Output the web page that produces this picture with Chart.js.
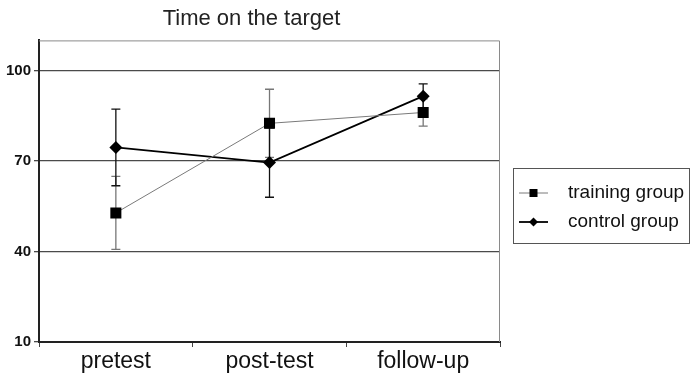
<!DOCTYPE html>
<html>
<head>
<meta charset="utf-8">
<script src="https://cdn.jsdelivr.net/npm/chart.js@4.4.1/dist/chart.umd.min.js"></script>
<style>
  html, body { margin: 0; padding: 0; background: #fff; }
  #wrap { width: 691px; height: 376px; }
</style>
</head>
<body>
<div id="wrap"><canvas id="timeChart" width="691" height="376"></canvas></div>
<script>
const categories = ["pretest", "post-test", "follow-up"];
const trainingMean = [52.8, 82.5, 86.1];
const trainingErr = [12.1, 11.3, 4.5];
const controlMean = [74.5, 69.5, 91.5];
const controlErr = [12.7, 11.5, 4.1];
const yTicks = [10, 40, 70, 100];

// error bars drawn under the markers
const errorBars = {
    id: "errorBars",
    beforeDatasetsDraw(chart) {
        const ctx = chart.ctx;
        const yScale = chart.scales.y;
        chart.data.datasets.forEach(function (ds, i) {
            const meta = chart.getDatasetMeta(i);
            ctx.save();
            ctx.strokeStyle = ds.errColor;
            ctx.lineWidth = 1.3;
            meta.data.forEach(function (pt, j) {
                const top = yScale.getPixelForValue(ds.data[j] + ds.err[j]);
                const bot = yScale.getPixelForValue(ds.data[j] - ds.err[j]);
                ctx.beginPath();
                ctx.moveTo(pt.x, top);
                ctx.lineTo(pt.x, bot);
                ctx.moveTo(pt.x - 4.5, top);
                ctx.lineTo(pt.x + 4.5, top);
                ctx.moveTo(pt.x - 4.5, bot);
                ctx.lineTo(pt.x + 4.5, bot);
                ctx.stroke();
            });
            ctx.restore();
        });
    },
};

// light frame on top and right of the plot area
const frame = {
    id: "frame",
    beforeDatasetsDraw(chart) {
        const a = chart.chartArea;
        const ctx = chart.ctx;
        ctx.save();
        ctx.strokeStyle = "#8a8a8a";
        ctx.lineWidth = 1;
        ctx.beginPath();
        ctx.moveTo(a.left, a.top + 0.5);
        ctx.lineTo(a.right - 0.5, a.top + 0.5);
        ctx.lineTo(a.right - 0.5, a.bottom);
        ctx.stroke();
        ctx.restore();
    },
};

// boxed legend to the right, line + marker samples
const boxLegend = {
    id: "boxLegend",
    afterDraw(chart) {
        const ctx = chart.ctx;
        const bx = 513, by = 168, bw = 176, bh = 75;
        ctx.save();
        ctx.strokeStyle = "#555";
        ctx.lineWidth = 1;
        ctx.strokeRect(bx + 0.5, by + 0.5, bw, bh);
        ctx.font = "19px 'Liberation Sans', Arial, sans-serif";
        ctx.textBaseline = "middle";
        chart.data.datasets.forEach(function (ds, i) {
            const y = by + 25 + i * 29;
            ctx.strokeStyle = ds.borderColor;
            ctx.lineWidth = ds.borderWidth;
            ctx.beginPath();
            ctx.moveTo(519, y);
            ctx.lineTo(548, y);
            ctx.stroke();
            ctx.fillStyle = "#000";
            ctx.beginPath();
            if (ds.pointStyle === "rect") {
                ctx.rect(529.5, y - 4, 8, 8);
            } else {
                ctx.moveTo(533.5, y - 4.5);
                ctx.lineTo(538, y);
                ctx.lineTo(533.5, y + 4.5);
                ctx.lineTo(529, y);
                ctx.closePath();
            }
            ctx.fill();
            ctx.fillStyle = "#111";
            ctx.fillText(ds.label, 568, y);
        });
        ctx.restore();
    },
};

new Chart(document.getElementById("timeChart").getContext("2d"), {
    type: "line",
    data: {
        labels: categories,
        datasets: [
            {
                label: "training group",
                data: trainingMean,
                err: trainingErr,
                errColor: "#777",
                borderColor: "#7a7a7a",
                borderWidth: 1,
                pointStyle: "rect",
                pointRadius: 7.8,
                pointBackgroundColor: "#000",
                pointBorderColor: "#000",
                pointBorderWidth: 0,
                tension: 0,
            },
            {
                label: "control group",
                data: controlMean,
                err: controlErr,
                errColor: "#111",
                borderColor: "#000",
                borderWidth: 1.8,
                pointStyle: "rectRot",
                pointRadius: 6.5,
                pointBackgroundColor: "#000",
                pointBorderColor: "#000",
                pointBorderWidth: 0,
                tension: 0,
            },
        ],
    },
    options: {
        responsive: false,
        animation: false,
        layout: { padding: { left: 3, right: 191, top: 0, bottom: 0 } },
        plugins: {
            legend: { display: false },
            tooltip: { enabled: false },
            title: {
                display: true,
                text: "Time on the target",
                color: "#222",
                font: { family: "'Liberation Sans', Arial, sans-serif", size: 22, weight: "normal" },
                padding: { top: 6, bottom: 8 },
            },
        },
        scales: {
            x: {
                offset: true,
                grid: {
                    offset: true,
                    drawOnChartArea: false,
                    tickLength: 5,
                    color: "#444",
                },
                border: { color: "#222", width: 2 },
                ticks: {
                    color: "#111",
                    padding: 3,
                    font: { family: "'Liberation Sans', Arial, sans-serif", size: 23, lineHeight: 1.0 },
                },
            },
            y: {
                min: 10,
                max: 110,
                afterBuildTicks(axis) {
                    axis.ticks = yTicks.map(function (v) { return { value: v }; });
                },
                grid: { color: "#4a4a4a", lineWidth: 1.3, tickLength: 5 },
                border: { color: "#222", width: 2 },
                ticks: {
                    color: "#111",
                    padding: 3,
                    font: { family: "'Liberation Sans', Arial, sans-serif", size: 15, weight: "bold" },
                },
            },
        },
    },
    plugins: [errorBars, frame, boxLegend],
});
</script>
</body>
</html>
